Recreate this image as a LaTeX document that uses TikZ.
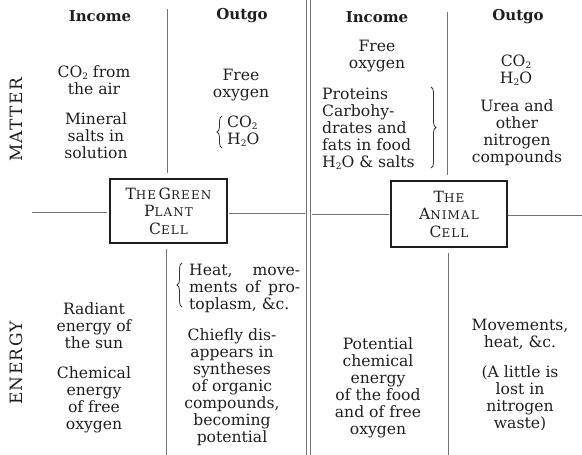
\documentclass[tikz,border=0pt]{standalone}
\usepackage{fontspec}
\setmainfont{DejaVu Serif}
\newfontfamily\scfont[LetterSpace=9]{DejaVu Serif}
\newfontfamily\capfont[LetterSpace=8]{DejaVu Serif}
\usetikzlibrary{decorations.pathreplacing,calc}
\newcommand{\fsc}[2]{{\fontsize{15.5}{15.5}\selectfont #1}{\fontsize{12}{12}\selectfont #2}}
\newcommand{\sub}[1]{\raisebox{-0.3ex}{\fontsize{9}{9}\selectfont #1}}
\begin{document}
\begin{tikzpicture}[x=1pt,y=-1pt,
  txt/.style={font=\fontsize{15.6}{17}\selectfont, align=center, inner sep=0pt, text=black!88},
  ltxt/.style={txt, align=left},
  head/.style={font=\bfseries\fontsize{15}{17}\selectfont, inner sep=0pt, text=black!88},
  side/.style={font=\capfont\fontsize{17}{17}\selectfont, inner sep=0pt, rotate=90, text=black!88},
  cellbox/.style={draw=black!88, line width=1.6pt, minimum width=117pt, minimum height=64pt, inner sep=0pt, align=center, font=\scfont\fontsize{15}{17.5}\selectfont, text=black!88},
  rule/.style={draw=black!55, line width=0.8pt},
  brc/.style={draw=black!80, line width=0.8pt, decorate, decoration={brace, amplitude=5pt}}
]
\useasboundingbox (0,0) rectangle (582,455);

% headers
\node[head] (hi1) at (100,16) {Income};
\node[head] (ho1) at (242,16) {Outgo};
\node[head] (hi2) at (377,17) {Income};
\node[head] (ho2) at (518,17) {Outgo};

% side labels
\node[side] (matter) at (16,120) {MATTER};
\node[side] (energy) at (16,363) {ENERGY};

% cells
\node[cellbox] (box1) at (168.5,211) {\fsc{T}{HE}\,\fsc{G}{REEN}\\\fsc{P}{LANT}\\\fsc{C}{ELL}};
\node[cellbox, minimum width=116pt, minimum height=66pt] (box2) at (449,214) {\fsc{T}{HE}\\\fsc{A}{NIMAL}\\\fsc{C}{ELL}};

% matter, plant
\node[txt] (m1) at (94,80) {CO\sub{2} from\\the air};
\node[txt] (m2) at (96,136) {Mineral\\salts in\\solution};
\node[txt] (m3) at (241,85) {Free\\oxygen};
\node[ltxt, anchor=west] (m4) at (227,131) {CO\sub{2}\\H\sub{2}O};
\coordinate (b1a) at (222,148);
\coordinate (b1b) at (222,116);
\draw[brc] (b1a) -- (b1b);

% matter, animal
\node[txt] (r1) at (377,56) {Free\\oxygen};
\node[ltxt, anchor=west] (r2) at (322,129) {Proteins\\Carbohy-\\drates and\\fats in food\\H\sub{2}O \& salts};
\coordinate (b2a) at (431,87);
\coordinate (b2b) at (431,168);
\draw[brc] (b2a) -- (b2b);
\node[txt] (o1) at (516,70) {CO\sub{2}\\H\sub{2}O};
\node[txt] (o2) at (517,133) {Urea and\\other\\nitrogen\\compounds};

% energy, plant
\node[txt] (e1) at (94,326) {Radiant\\energy of\\the sun};
\node[txt] (e2) at (94,400) {Chemical\\energy\\of free\\oxygen};
\node[ltxt, anchor=west] (heat) at (189,288) {\makebox[111pt][s]{Heat, move-}\\\makebox[111pt][s]{ments of pro-}\\toplasm, \&c.};
\coordinate (b3a) at (182,307);
\coordinate (b3b) at (182,263);
\draw[brc] (b3a) -- (b3b);
\node[txt] (chief) at (232,387) {Chiefly dis-\\appears in\\syntheses\\of organic\\compounds,\\becoming\\potential};

% energy, animal
\node[txt] (pot) at (378,388) {Potential\\chemical\\energy\\of the food\\and of free\\oxygen};
\node[txt] (mov) at (520,334) {Movements,\\heat, \&c.};
\node[txt] (lit) at (520,398) {(A little is\\lost in\\nitrogen\\waste)};

% rules
\coordinate (v1t) at (167,9);
\coordinate (v1b) at (166,455);
\coordinate (v3t) at (447,12);
\coordinate (v3b) at (448,455);
\coordinate (dl1t) at (306,0);
\coordinate (dl1b) at (306,455);
\coordinate (dl2t) at (310,0);
\coordinate (dl2b) at (310,455);
\coordinate (hl) at (32,212);
\coordinate (hm1) at (305,213);
\coordinate (hm2) at (312,214);
\coordinate (hr) at (582,215);

\draw[rule, shorten >=5pt] (v1t) -- (v1t |- box1.north);
\draw[rule, shorten <=5pt] (v1b |- box1.south) -- (v1b);
\draw[rule, shorten >=5pt] (v3t) -- (v3t |- box2.north);
\draw[rule, shorten <=5pt] (v3b |- box2.south) -- (v3b);
\draw[rule] (dl1t) -- (dl1b);
\draw[rule] (dl2t) -- (dl2b);
\draw[rule, shorten >=2pt] (hl) -- (hl -| box1.west);
\draw[rule, shorten <=1pt] (box1.east |- hm1) -- (hm1);
\draw[rule, shorten >=1pt] (hm2) -- (hm2 -| box2.west);
\draw[rule] (box2.east |- hr) -- (hr);
\end{tikzpicture}
\end{document}
